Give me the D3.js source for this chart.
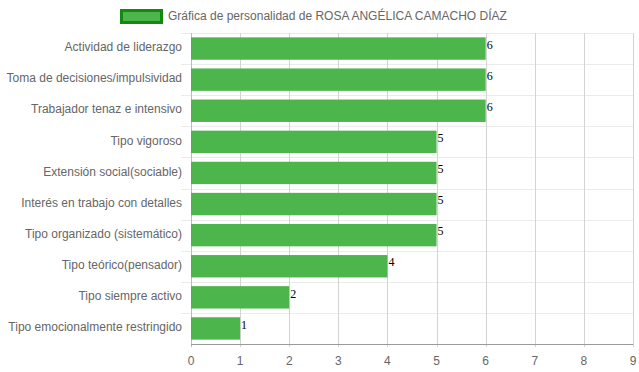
<!DOCTYPE html>
<meta charset="utf-8">
<style>
  body, html { margin:0; padding:0; background:#fff; }
  text { font-family: "Liberation Sans", Arial, Helvetica, sans-serif; }
</style>
<body>
<svg id="chart" width="639" height="372"></svg>
<script src="https://d3js.org/d3.v7.min.js"></script>
<script>

var categories = [
  "Actividad de liderazgo",
  "Toma de decisiones/impulsividad",
  "Trabajador tenaz e intensivo",
  "Tipo vigoroso",
  "Extensión social(sociable)",
  "Interés en trabajo con detalles",
  "Tipo organizado (sistemático)",
  "Tipo teórico(pensador)",
  "Tipo siempre activo",
  "Tipo emocionalmente restringido"
];
var values = [6, 6, 6, 5, 5, 5, 5, 4, 2, 1];
var xTicks = [0, 1, 2, 3, 4, 5, 6, 7, 8, 9];
var seriesName = "Gráfica de personalidad de ROSA ANGÉLICA CAMACHO DÍAZ";

var svg = d3.select("#chart");
var margin = {top: 33, right: 6, bottom: 28, left: 191},
    width = 639 - margin.left - margin.right,
    height = 372 - margin.top - margin.bottom;

var g = svg.append("g").attr("transform", "translate(" + margin.left + "," + margin.top + ")");

var x = d3.scaleLinear().domain([0, 9]).range([0, width]);
var y = d3.scaleBand().domain(categories).range([0, height]);

// horizontal grid (category boundaries)
g.selectAll(".hgrid")
    .data(d3.range(categories.length))
    .enter().append("line")
    .attr("x1", -10).attr("x2", width)
    .attr("y1", function(i) { return Math.round(i * y.step()) + 0.5; })
    .attr("y2", function(i) { return Math.round(i * y.step()) + 0.5; })
    .attr("stroke", "#ebebeb");

// vertical grid
g.selectAll(".vgrid")
    .data(xTicks)
    .enter().append("line")
    .attr("x1", function(d) { return Math.round(x(d)) + 0.5; })
    .attr("x2", function(d) { return Math.round(x(d)) + 0.5; })
    .attr("y1", 0).attr("y2", height + 3)
    .attr("stroke", function(d) { return d === 0 ? "#bbb" : "#d3d3d3"; });

// bars
var bh = y.bandwidth() * 0.8 * 0.9;
g.selectAll(".bar")
    .data(values)
    .enter().append("rect")
    .attr("x", 0)
    .attr("y", function(d, i) { return y(categories[i]) + (y.bandwidth() - bh) / 2; })
    .attr("width", function(d) { return x(d); })
    .attr("height", bh)
    .attr("fill", "#4cb54c");

// value labels
g.selectAll(".val")
    .data(values)
    .enter().append("text")
    .attr("x", function(d) { return x(d) + 1; })
    .attr("y", function(d, i) { return y(categories[i]) + (y.bandwidth() - bh) / 2 + 3; })
    .attr("dy", "0.7em")
    .style("font-family", "'Liberation Serif', 'DejaVu Serif', serif")
    .style("font-size", "12px")
    .attr("fill", "#000")
    .text(function(d) { return d; });

// x axis line
g.append("line")
    .attr("x1", 0).attr("x2", width)
    .attr("y1", height + 0.5).attr("y2", height + 0.5)
    .attr("stroke", "#999");

// x tick labels
g.selectAll(".xt")
    .data(xTicks)
    .enter().append("text")
    .attr("x", function(d) { return x(d); })
    .attr("y", height + 21)
    .attr("text-anchor", "middle")
    .style("font-size", "12px")
    .attr("fill", "#666")
    .text(function(d) { return d; });

// y labels
g.selectAll(".yl")
    .data(categories)
    .enter().append("text")
    .attr("x", -9)
    .attr("y", function(d) { return y(d) + y.bandwidth() / 2 - 1.5; })
    .attr("dy", "0.35em")
    .attr("text-anchor", "end")
    .style("font-size", "12px")
    .attr("fill", "#666")
    .text(function(d) { return d; });

// legend
svg.append("rect")
    .attr("x", 121.5).attr("y", 10.5)
    .attr("width", 40).attr("height", 12)
    .attr("fill", "#4cb54c")
    .attr("stroke", "#128a12")
    .attr("stroke-width", 3);
svg.append("text")
    .attr("x", 168).attr("y", 16)
    .attr("dy", "0.35em")
    .style("font-size", "12px")
    .attr("fill", "#666")
    .text(seriesName);

</script>
</body>
